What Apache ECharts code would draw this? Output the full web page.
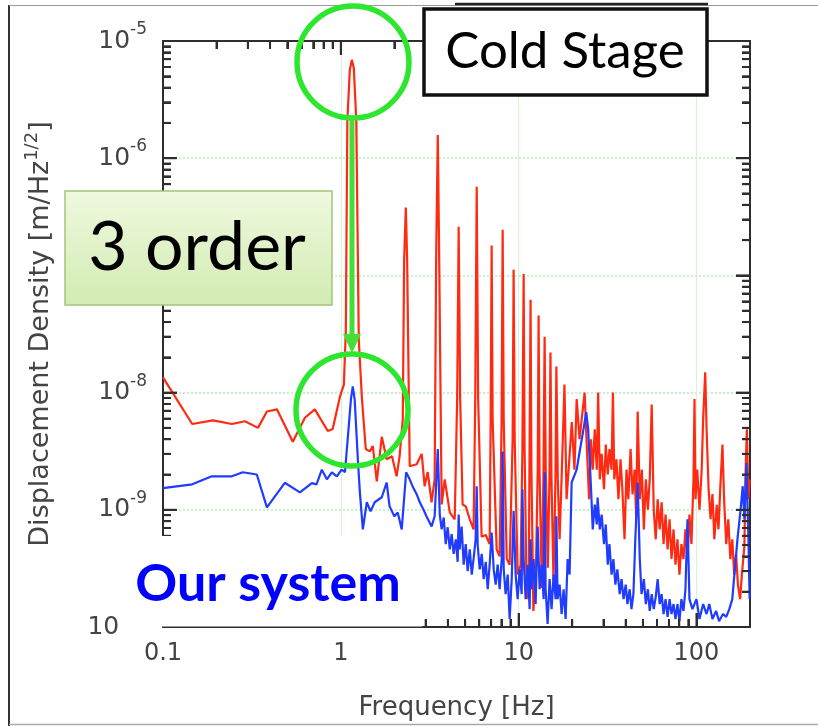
<!DOCTYPE html>
<html>
<head>
<meta charset="utf-8">
<script src="https://cdn.jsdelivr.net/npm/echarts/dist/echarts.min.js"></script>
<style>
html,body{margin:0;padding:0;background:#fff;}
#chart{width:818px;height:726px;}
</style>
</head>
<body>
<div id="chart"></div>
<script>
// ---- data: [frequency Hz, displacement m/Hz^1/2] ----
const redData = [
[0.1,1.35e-8],[0.146,5.4e-9],[0.191,5.8e-9],[0.244,5.4e-9],[0.289,5.7e-9],[0.342,5.0e-9],
[0.384,6.9e-9],[0.437,7.2e-9],[0.537,3.8e-9],[0.628,6.1e-9],[0.714,7.2e-9],[0.845,4.7e-9],
[0.90,4.9e-9],[0.99,9.3e-9],[1.04,1.17e-8],[1.067,3.4e-8],[1.088,2.1e-6],[1.124,5.7e-6],
[1.153,6.9e-6],[1.183,5.9e-6],[1.222,2.1e-6],[1.262,2.8e-8],[1.312,9.3e-9],[1.381,3.3e-9],
[1.455,3.15e-9],[1.513,3.5e-9],[1.593,1.75e-9],[1.70,4.2e-9],[1.81,2.7e-9],[1.94,2.86e-9],
[2.06,1.93e-9],[2.14,2.86e-9],[2.23,5.9e-9],[2.27,1.36e-7],[2.32,3.8e-7],[2.36,1.36e-7],
[2.44,2.35e-9],[2.67,2.45e-9],[2.85,3.0e-9],[2.96,1.59e-9],[3.08,2.1e-9],[3.24,1.16e-9],
[3.37,1.82e-9],[3.44,1.66e-7],[3.51,1.58e-6],[3.57,1.66e-7],[3.69,1.11e-9],[3.84,1.82e-9],
[4.10,9.5e-10],[4.37,8.3e-10],[4.51,8.8e-9],[4.60,2.6e-7],[4.69,8.8e-9],[4.84,1.11e-9],
[5.04,1.07e-9],[5.31,8.3e-10],[5.58,6.8e-10],[5.70,8.8e-9],[5.81,5.7e-7],[5.92,8.8e-9],
[6.19,5.9e-10],[6.53,6.1e-10],[6.87,5.1e-10],[6.96,5.9e-9],[7.05,1.8e-7],[7.14,5.9e-9],
[7.52,4.6e-10],[7.82,4.0e-10],[8.02,5.9e-9],[8.13,2.45e-7],[8.24,5.9e-9],[8.57,3.8e-10],
[8.9,3.4e-10],[9.25,4.0e-9],[9.37,1.12e-7],[9.50,4.0e-9],[9.87,2.8e-10],[10.26,3.4e-10],
[10.5,3.3e-9],[10.67,1.03e-7],[10.8,3.3e-9],[11.1,1.73e-10],[11.4,2.3e-10],[11.5,2.2e-9],
[11.67,6.2e-8],[11.8,2.2e-9],[12.1,1.37e-10],[12.5,2.8e-10],[12.8,2.2e-9],[12.95,4.55e-8],
[13.1,2.2e-9],[13.5,2.15e-10],[13.8,2.2e-9],[14.0,3.0e-8],[14.2,2.2e-9],[14.6,3.2e-10],
[14.9,1.8e-9],[15.1,2.2e-8],[15.3,1.8e-9],[15.7,2.5e-10],[16.1,1.8e-9],[16.3,1.67e-8],
[16.6,1.8e-9],[17.0,5.6e-10],[17.5,2.2e-9],[18.1,1.17e-8],[18.6,1.23e-9],[19.1,2.2e-9],
[19.9,5.6e-9],[20.6,2.2e-9],[21.2,8.8e-9],[22.0,4.0e-9],[23.5,1.0e-8],[24.2,3.3e-9],
[24.9,1.23e-9],[25.5,4.0e-9],[26.1,2.2e-9],[26.8,4.86e-9],[27.5,2.2e-9],[28.0,1.0e-8],
[28.6,1.82e-9],[29.3,3.0e-9],[30.2,1.5e-9],[30.9,3.6e-9],[31.7,2.0e-9],[32.4,3.3e-9],
[33.3,2.2e-9],[33.9,1.0e-8],[34.5,1.82e-9],[35.5,2.7e-9],[36.4,1.23e-9],[37.4,2.7e-9],
[38.3,1.5e-9],[39.4,5.6e-10],[40.4,2.2e-9],[41.4,1.23e-9],[42.6,3.3e-9],[43.7,1.35e-9],
[44.9,2.2e-9],[45.8,8.3e-10],[46.7,6.9e-9],[48.0,1.23e-9],[49.3,2.2e-9],[50.6,6.8e-10],
[51.9,1.82e-9],[53.3,1.0e-9],[54.6,1.82e-9],[56.0,7.9e-9],[57.5,1.0e-9],[59.0,5.6e-10],
[60.5,1.23e-9],[62.1,6.8e-10],[63.7,1.16e-9],[65.3,5.1e-10],[67.0,9.1e-10],[68.8,4.6e-10],
[70.6,8.3e-10],[72.4,3.8e-10],[74.3,6.8e-10],[76.2,3.4e-10],[78.2,5.6e-10],[80.2,2.8e-10],
[82.3,5.1e-10],[84.5,3.8e-10],[86.7,6.8e-10],[89.0,3.8e-10],[91.3,9.1e-10],[93.7,5.1e-10],
[96.2,1.82e-9],[97.5,8.8e-9],[98.7,1.23e-9],[101,2.2e-9],[104,1.0e-9],[107,2.2e-9],
[109,5.9e-9],[112,1.49e-8],[114,4.86e-9],[117,1.5e-9],[120,8.3e-10],[123,1.36e-9],
[126,5.6e-10],[130,1.1e-9],[133,6.8e-10],[136,1.5e-9],[140,3.6e-9],[143,1.23e-9],
[147,5.1e-10],[151,8.3e-10],[155,3.8e-10],[159,5.6e-10],[163,2.8e-10],[167,4.2e-10],
[171,2.3e-10],[176,1.73e-10],[180,2.8e-10],[186,4.9e-10],[189,2.2e-9],[192,4.86e-9],
[196,1.23e-9],[199,1.82e-9]
];
const blueData = [
[0.1,1.53e-9],[0.146,1.65e-9],[0.188,1.93e-9],[0.244,1.93e-9],[0.281,2.09e-9],[0.337,2.0e-9],
[0.384,1.05e-9],[0.484,1.7e-9],[0.589,1.41e-9],[0.687,1.69e-9],[0.73,1.65e-9],[0.782,2.2e-9],
[0.835,1.82e-9],[0.89,2.09e-9],[0.95,1.93e-9],[1.01,2.2e-9],[1.055,2.1e-9],[1.093,4.0e-9],
[1.14,8.8e-9],[1.167,1.13e-8],[1.196,8.8e-9],[1.25,2.5e-9],[1.28,1.41e-9],[1.33,6.8e-10],
[1.40,1.16e-9],[1.47,9.7e-10],[1.55,1.16e-9],[1.70,1.28e-9],[1.81,1.71e-9],[1.88,1.07e-9],
[2.0,8.8e-10],[2.09,9.5e-10],[2.2,6.8e-10],[2.33,2.09e-9],[2.44,1.82e-9],[2.53,1.59e-9],
[2.67,1.36e-9],[2.78,1.16e-9],[2.92,1.0e-9],[3.03,8.8e-10],[3.24,7.2e-10],[3.37,8.8e-10],
[3.51,3.3e-9],[3.60,9.1e-10],[3.69,6.8e-10],[3.79,8.6e-10],[3.89,5.1e-10],[3.99,7.1e-10],
[4.10,4.6e-10],[4.20,6.2e-10],[4.31,4.2e-10],[4.43,5.6e-10],[4.54,3.6e-10],[4.60,9.1e-10],
[4.66,4.6e-10],[4.78,7.2e-10],[4.91,3.4e-10],[5.04,5.1e-10],[5.17,3.0e-10],[5.31,4.6e-10],
[5.45,2.8e-10],[5.59,3.9e-10],[5.73,5.6e-10],[5.81,1.59e-9],[5.88,5.1e-10],[6.04,3.1e-10],
[6.20,4.2e-10],[6.36,2.56e-10],[6.53,3.6e-10],[6.70,2.1e-10],[6.87,3.4e-10],[7.05,6.4e-10],
[7.24,3.1e-10],[7.43,2.3e-10],[7.62,3.4e-10],[7.82,2.1e-10],[8.03,3.8e-10],[8.13,3.15e-9],
[8.24,3.1e-10],[8.45,1.91e-10],[8.68,2.8e-10],[8.90,1.17e-10],[9.14,2.56e-10],[9.37,9.8e-10],
[9.62,2.8e-10],[9.87,1.73e-10],[10.13,3.1e-10],[10.4,1.91e-10],[10.5,1.5e-9],[10.67,3.8e-10],
[10.95,1.73e-10],[11.24,3.4e-10],[11.53,1.42e-10],[11.67,5.6e-10],[11.83,2.1e-10],[12.14,3.8e-10],
[12.46,1.57e-10],[12.79,7.2e-10],[13.12,2.1e-10],[13.47,3.4e-10],[13.82,1.73e-10],[14.0,2.09e-9],
[14.18,2.1e-10],[14.55,1.06e-10],[14.93,2.56e-10],[15.32,1.42e-10],[15.73,2.8e-10],[16.14,1.73e-10],
[16.3,8.8e-10],[16.56,1.73e-10],[17.0,2.3e-10],[17.44,1.29e-10],[17.9,2.1e-10],[18.37,1.17e-10],
[18.85,3.8e-10],[19.34,2.8e-10],[19.86,1.71e-9],[21.2,2.2e-9],[22.0,3.1e-9],[22.9,4.4e-9],
[24.0,6.8e-9],[24.6,4.86e-9],[25.5,1.59e-9],[26.1,6.8e-10],[26.8,1.11e-9],[27.5,7.5e-10],
[27.8,1.27e-9],[28.6,6.8e-10],[29.3,9.1e-10],[30.2,5.1e-10],[30.9,7.5e-10],[31.7,3.4e-10],
[32.4,5.1e-10],[33.3,2.8e-10],[34.1,3.8e-10],[35.0,2.3e-10],[35.9,3.1e-10],[37.0,1.91e-10],
[37.9,2.56e-10],[38.9,1.73e-10],[40.0,2.3e-10],[40.9,1.57e-10],[42.1,2.1e-10],[43.1,1.42e-10],
[44.2,1.91e-10],[45.3,5.6e-10],[46.7,1.71e-9],[48.0,3.8e-10],[49.1,1.91e-10],[50.6,2.56e-10],
[51.9,1.57e-10],[53.3,2.1e-10],[54.6,1.37e-10],[56.0,1.91e-10],[57.5,1.42e-10],[59.0,1.8e-10],
[60.5,2.56e-10],[62.1,1.57e-10],[63.7,1.91e-10],[65.3,1.29e-10],[67.0,1.73e-10],[68.8,1.22e-10],
[70.6,1.73e-10],[72.4,1.29e-10],[74.3,1.57e-10],[76.2,1.17e-10],[78.2,1.57e-10],[80.2,1.12e-10],
[82.3,1.73e-10],[84.5,1.37e-10],[86.7,2.1e-10],[89.0,8.3e-10],[91.3,1.73e-10],[94.9,1.42e-10],
[100,1.73e-10],[104,1.17e-10],[109,1.57e-10],[114,1.29e-10],[118,1.57e-10],[123,1.17e-10],
[129,1.37e-10],[134,1.12e-10],[141,1.29e-10],[147,1.22e-10],[153,1.42e-10],[159,1.73e-10],
[166,3.7e-10],[170,5.6e-10],[177,1.0e-9],[182,1.59e-9],[186,8.3e-10],[191,2.5e-9],
[196,5.6e-10],[199,1.73e-10]
];
const xTickLabels = ['0.1', '1', '10', '100'];
const yTickExponents = ['-10', '-9', '-8', '-7', '-6', '-5'];
const xMajorTicks = [0.1, 1, 10, 100];
const xMinorTicks = [0.2,0.3,0.4,0.5,0.6,0.7,0.8,0.9, 2,3,4,5,6,7,8,9, 20,30,40,50,60,70,80,90];
const yMajorTicks = [1e-10, 1e-9, 1e-8, 1e-7, 1e-6, 1e-5];
const yMinorTicks = [
  2e-10,3e-10,4e-10,5e-10,6e-10,7e-10,8e-10,9e-10,
  2e-9,3e-9,4e-9,5e-9,6e-9,7e-9,8e-9,9e-9,
  2e-8,3e-8,4e-8,5e-8,6e-8,7e-8,8e-8,9e-8,
  2e-7,3e-7,4e-7,5e-7,6e-7,7e-7,8e-7,9e-7,
  2e-6,3e-6,4e-6,5e-6,6e-6,7e-6,8e-6,9e-6
];
const xRange = [0.1, 200];
const yRange = [1e-10, 1e-5];

const AX = '#2e2e2e';
const FONT = 'DejaVu Sans';
const MAJOR_LEN = 14, MINOR_LEN = 8;

function xLabel(v) {
  const s = String(v);
  return xTickLabels.indexOf(s) >= 0 ? s : '';
}
function yLabel(v) {
  const e = String(Math.round(Math.log10(v)));
  return yTickExponents.indexOf(e) >= 0 ? '{b|10}{e|' + e + '}' : '';
}
const yRich = {
  b: {fontSize: 25, fontFamily: FONT, color: '#444', lineHeight: 40},
  e: {fontSize: 17, fontFamily: FONT, color: '#444', lineHeight: 17, verticalAlign: 'top'}
};

const chart = echarts.init(document.getElementById('chart'), null, {renderer: 'canvas'});
function axisBase(range) {
  return {
    type: 'log', logBase: 10, min: range[0], max: range[1],
    axisLine: {show: true, onZero: false, lineStyle: {color: AX, width: 2}},
    axisTick: {show: true, inside: true, length: MAJOR_LEN, lineStyle: {color: AX, width: 2}},
    minorTick: {show: true, splitNumber: 9, length: MINOR_LEN, lineStyle: {color: AX, width: 2}}
  };
}

const annotations = [
  {type: 'line', z: 100, shape: {x1: 9, y1: 5, x2: 9, y2: 726}, style: {stroke: '#333', lineWidth: 2}},
  {type: 'line', z: 100, shape: {x1: 9, y1: 5.5, x2: 818, y2: 5.5}, style: {stroke: '#999', lineWidth: 1}},
  {type: 'line', z: 100, shape: {x1: 455, y1: 4, x2: 708, y2: 4}, style: {stroke: '#222', lineWidth: 2.5}},
  {type: 'line', z: 100, shape: {x1: 9, y1: 724.5, x2: 818, y2: 724.5}, style: {stroke: '#aaa', lineWidth: 1.5}},
  {type: 'rect', z: 100, shape: {x: 119, y: 536, width: 303, height: 90.5}, style: {fill: '#fff'}},
  {type: 'text', z: 101, x: 268, y: 584, style: {text: 'Our system', fill: '#0000ff', font: 'bold 52px Lato',
    align: 'center', verticalAlign: 'middle', textAlign: 'center', textVerticalAlign: 'middle'}},
  {type: 'rect', z: 100, shape: {x: 424, y: 9, width: 283, height: 86},
    style: {fill: '#fff', stroke: '#111', lineWidth: 3.5}},
  {type: 'text', z: 101, x: 565, y: 52, style: {text: 'Cold Stage', fill: '#000', font: '51px Lato',
    align: 'center', verticalAlign: 'middle', textAlign: 'center', textVerticalAlign: 'middle'}},
  {type: 'rect', z: 100, shape: {x: 65, y: 191, width: 267, height: 114},
    style: {fill: new echarts.graphic.LinearGradient(0, 0, 0, 1, [{offset: 0, color: '#eff9df'}, {offset: 1, color: '#d2ebb2'}]),
      stroke: '#a3c677', lineWidth: 1.5}},
  {type: 'text', z: 101, x: 197, y: 248, style: {text: '3 order', fill: '#000', font: '68px Lato',
    align: 'center', verticalAlign: 'middle', textAlign: 'center', textVerticalAlign: 'middle'}},
  {type: 'circle', z: 102, shape: {cx: 353, cy: 62, r: 56}, style: {fill: 'none', stroke: '#2fe62f', lineWidth: 5.5}},
  {type: 'circle', z: 102, shape: {cx: 352, cy: 410, r: 56}, style: {fill: 'none', stroke: '#2fe62f', lineWidth: 5.5}},
  {type: 'line', z: 102, shape: {x1: 352, y1: 118, x2: 352, y2: 338}, style: {stroke: '#45de35', lineWidth: 5}},
  {type: 'polygon', z: 102, shape: {points: [[343, 334], [361, 334], [352, 353]]}, style: {fill: '#45de35'}}
];

const option = {
  animation: false,
  backgroundColor: '#fff',
  grid: {left: 163, top: 41, right: 68, bottom: 98, containLabel: false},
  xAxis: [
    Object.assign(axisBase(xRange), {
      position: 'bottom',
      axisLabel: {formatter: xLabel, fontSize: 24, fontFamily: FONT, color: '#444', margin: 15, showMaxLabel: false},
      splitLine: {show: true, lineStyle: {color: '#d3f5d3', width: 1}},
      name: 'Frequency [Hz]', nameLocation: 'middle', nameGap: 68,
      nameTextStyle: {fontSize: 26, fontFamily: FONT, color: '#444'}
    }),
    Object.assign(axisBase(xRange), {
      position: 'top', axisLabel: {show: false}, splitLine: {show: false}
    })
  ],
  yAxis: [
    Object.assign(axisBase(yRange), {
      position: 'left',
      axisLabel: {formatter: yLabel, rich: yRich, margin: 16},
      splitLine: {show: true, lineStyle: {color: '#b6eeb6', width: 1.5, type: [2, 2]}},
      name: '{a|Displacement Density [m/Hz}{s|1/2}{a|]}',
      nameLocation: 'middle', nameGap: 104, nameRotate: 90,
      nameTextStyle: {
        rich: {
          a: {fontSize: 27, fontFamily: FONT, color: '#444', lineHeight: 36},
          s: {fontSize: 18, fontFamily: FONT, color: '#444', lineHeight: 18, verticalAlign: 'top'}
        }
      }
    }),
    Object.assign(axisBase(yRange), {
      position: 'right', axisLabel: {show: false}, splitLine: {show: false}
    })
  ],
  series: [
    {type: 'line', name: 'Cold Stage', data: redData, symbol: 'none', clip: true,
     lineStyle: {color: '#ff2a12', width: 2.2}, z: 3},
    {type: 'line', name: 'Our system', data: blueData, symbol: 'none', clip: true,
     lineStyle: {color: '#1f3cff', width: 2.2}, z: 4}
  ],
  graphic: annotations
};
chart.setOption(option);

// Extra tick marks, placed from tick values through the chart's own log scales.
try {
  const toPx = function (x, y) { return chart.convertToPixel({gridIndex: 0}, [x, y]); };
  const tick = function (x1, y1, x2, y2) {
    return {type: 'line', z: 90, silent: true, shape: {x1: x1, y1: y1, x2: x2, y2: y2},
      style: {stroke: AX, lineWidth: 2}};
  };
  const ticks = [];
  const addX = function (vals, len) {
    vals.forEach(function (v) {
      const b = toPx(v, yRange[0]), t = toPx(v, yRange[1]);
      if (b && t) {
        ticks.push(tick(b[0], b[1], b[0], b[1] - len));
        ticks.push(tick(t[0], t[1], t[0], t[1] + len));
      }
    });
  };
  const addY = function (vals, len) {
    vals.forEach(function (v) {
      const l = toPx(xRange[0], v), r = toPx(xRange[1], v);
      if (l && r) {
        ticks.push(tick(l[0], l[1], l[0] + len, l[1]));
        ticks.push(tick(r[0], r[1], r[0] - len, r[1]));
      }
    });
  };
  addX(xMajorTicks, MAJOR_LEN);
  addX(xMinorTicks, MINOR_LEN);
  addY(yMajorTicks, MAJOR_LEN);
  addY(yMinorTicks, MINOR_LEN);
  chart.setOption({graphic: ticks.concat(annotations)}, {replaceMerge: ['graphic']});
} catch (e) {
  // keep the chart as already drawn
}
</script>
</body>
</html>
